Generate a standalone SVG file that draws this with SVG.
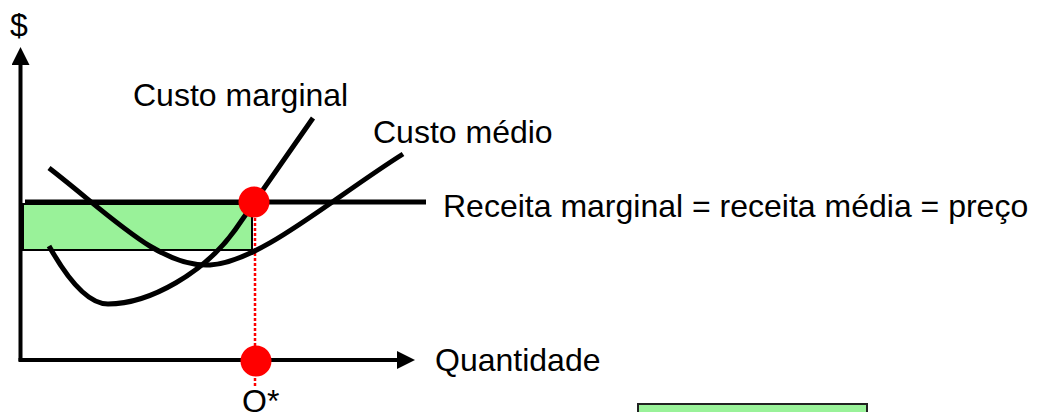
<svg xmlns="http://www.w3.org/2000/svg" width="1048" height="412" viewBox="0 0 1048 412">
<defs>
<style>
.t{font-family:"Liberation Sans",Arial,sans-serif;font-size:32px;fill:#000}
.curve{fill:none;stroke:#000;stroke-width:5}
.axis{fill:none;stroke:#000;stroke-width:4}
.dot{fill:#ff0000}
</style>
<marker id="ah" viewBox="0 0 18 18" refX="0" refY="9" markerWidth="18" markerHeight="18" markerUnits="userSpaceOnUse" orient="auto">
<path d="M0,0 L18,9 L0,18 Z" fill="#000"/>
</marker>
</defs>
<rect width="1048" height="412" fill="#fff"/>
<g id="profit-area">
<rect x="23" y="204" width="229" height="46" fill="#99f299" stroke="#000" stroke-width="2"/>
</g>
<g id="legend-box">
<rect x="638" y="404" width="229" height="20" fill="#99f299" stroke="#222" stroke-width="2"/>
</g>
<g id="connectors">
<path class="axis" d="M20.5,361 L20.5,65" marker-end="url(#ah)"/>
<path class="axis" d="M18.5,360 L397,360" marker-end="url(#ah)"/>
<line x1="25" y1="202" x2="426" y2="202" stroke="#000" stroke-width="5"/>
<line x1="255" y1="218" x2="255" y2="386" stroke="#ff0000" stroke-width="2.5" stroke-dasharray="3 2"/>
</g>
<g id="marginal-cost">
<path class="curve" d="M49,246 C68,280 88,304 108,304 C150,304 205,272 235,230 L313,118"/>
</g>
<g id="average-cost">
<path class="curve" d="M49,168 C110,215 160,268 210,265 C260,262 330,200 403,154"/>
</g>
<g id="eq-point"><circle class="dot" cx="254" cy="202" r="15.5"/></g>
<g id="q-point"><circle class="dot" cx="256" cy="361" r="15.5"/></g>
<g id="labels">
<text class="t" x="10" y="36">$</text>
<text class="t" x="133" y="106">Custo marginal</text>
<text class="t" x="373" y="143">Custo médio</text>
<text class="t" x="443" y="217">Receita marginal = receita média = preço</text>
<text class="t" x="435" y="371">Quantidade</text>
<text class="t" x="242" y="412">Q*</text>
</g>
</svg>
